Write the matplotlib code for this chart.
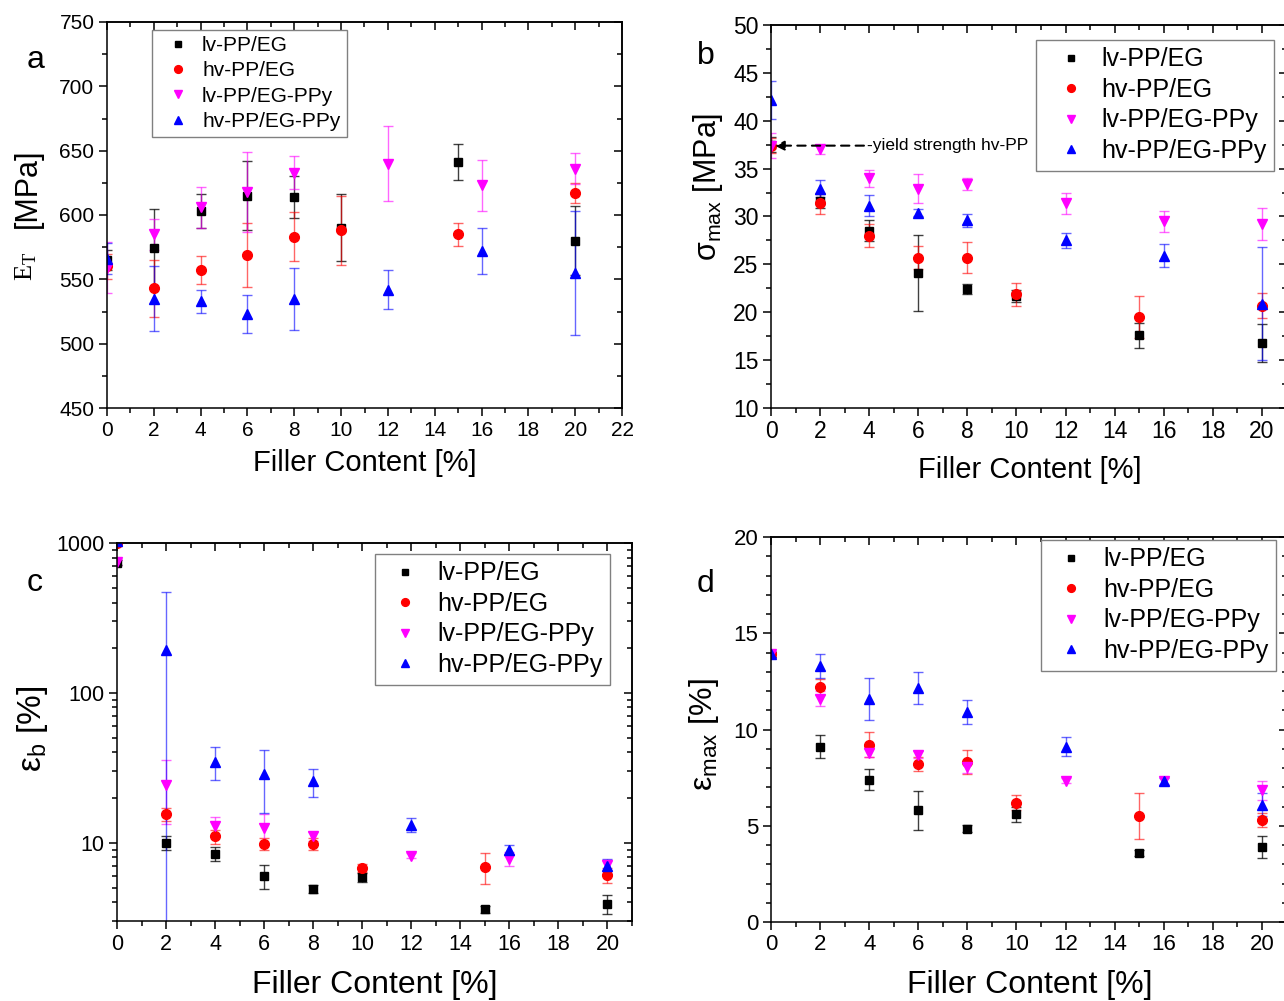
import numpy as np
import matplotlib
matplotlib.use('Agg')
import matplotlib.pyplot as plt
from matplotlib.ticker import MultipleLocator, NullFormatter, FuncFormatter

plt.rcParams['font.family'] = ['Liberation Sans', 'DejaVu Sans']

# series
names = ['lv-PP/EG', 'hv-PP/EG', 'lv-PP/EG-PPy', 'hv-PP/EG-PPy']
colors = ['black', 'red', 'magenta', 'blue']
ecolors = [(0, 0, 0, 0.75), (1, 0, 0, 0.6), (1, 0, 1, 0.6), (0, 0, 1, 0.6)]
markers = ['s', 'o', 'v', '^']
msizes = [6, 7, 7.5, 7.5]

x_EG = [0, 2, 4, 6, 8, 10, 15, 20]
x_PPy = [0, 2, 4, 6, 8, 12, 16, 20]

# a) tensile modulus E_T [MPa]
E_lv_EG = [565, 574, 603, 615, 614, 590, 641, 580]
E_lv_EG_err = [8, 31, 13, 27, 16, 26, 14, 27]
E_hv_EG = [560, 543, 557, 569, 583, 588, 585, 617]
E_hv_EG_err = [10, 22, 11, 25, 19, 27, 9, 8]
E_lv_PPy = [559, 585, 606, 618, 633, 640, 623, 636]
E_lv_PPy_err = [20, 12, 16, 31, 13, 29, 20, 12]
E_hv_PPy = [566, 535, 533, 523, 535, 542, 572, 555]
E_hv_PPy_err = [12, 25, 9, 15, 24, 15, 18, 48]

# b) sigma_max [MPa]
S_lv_EG = [37.5, 31.6, 28.5, 24.1, 22.4, 21.7, 17.6, 16.8]
S_lv_EG_err = [0.8, 0.7, 1.1, 4.0, 0.5, 0.6, 1.3, 2.0]
S_hv_EG = [37.4, 31.4, 28.0, 25.7, 25.7, 21.9, 19.5, 20.7]
S_hv_EG_err = [0.8, 1.1, 1.2, 1.2, 1.6, 1.2, 2.2, 1.3]
S_lv_PPy = [37.4, 37.0, 34.0, 32.9, 33.4, 31.4, 29.5, 29.2]
S_lv_PPy_err = [1.3, 0.5, 0.9, 1.5, 0.6, 1.1, 1.1, 1.7]
S_hv_PPy = [42.2, 32.9, 31.1, 30.4, 29.6, 27.5, 25.9, 20.9]
S_hv_PPy_err = [2.0, 0.9, 1.1, 0.4, 0.7, 0.8, 1.2, 5.9]

# c) elongation at break [%]
B_lv_EG = [740, 10.0, 8.4, 6.0, 4.9, 5.9, 3.6, 3.9]
B_lv_EG_err = [30, 1.1, 0.9, 1.1, 0.3, 0.4, 0.2, 0.55]
B_hv_EG = [1000, 15.5, 11.0, 9.8, 9.85, 6.8, 6.9, 6.1]
B_hv_EG_err = [40, 1.6, 1.2, 0.9, 0.9, 0.4, 1.6, 0.7]
B_lv_PPy = [745, 24.4, 13.0, 12.6, 11.0, 8.2, 7.8, 7.1]
B_lv_PPy_err = [30, 11, 1.8, 3.0, 0.7, 0.3, 0.8, 0.6]
B_hv_PPy = [1030, 193, 34.8, 28.8, 25.6, 13.2, 9.0, 6.95]
B_hv_PPy_err = [40, 280, 8.7, 13, 5.3, 1.4, 0.7, 0.8]

# d) strain at max [%]
M_lv_EG = [13.9, 9.1, 7.4, 5.8, 4.85, 5.6, 3.57, 3.9]
M_lv_EG_err = [0.15, 0.6, 0.55, 1.0, 0.2, 0.4, 0.15, 0.55]
M_hv_EG = [13.9, 12.2, 9.2, 8.2, 8.3, 6.2, 5.5, 5.3]
M_hv_EG_err = [0.15, 0.4, 0.65, 0.35, 0.63, 0.38, 1.2, 0.38]
M_lv_PPy = [13.9, 11.6, 8.8, 8.7, 8.05, 7.35, 7.35, 6.85]
M_lv_PPy_err = [0.15, 0.4, 0.25, 0.2, 0.3, 0.15, 0.2, 0.5]
M_hv_PPy = [13.9, 13.3, 11.6, 12.15, 10.9, 9.1, 7.3, 6.1]
M_hv_PPy_err = [0.15, 0.63, 1.1, 0.83, 0.63, 0.5, 0.2, 0.6]

W, H = 1284, 1001
fig = plt.figure(figsize=(W / 100, H / 100), dpi=100)


def add_ax(l, r, t, b):
    # pixel box -> figure fraction
    return fig.add_axes([l / W, 1 - b / H, (r - l) / W, (b - t) / H])


def fxy(x, y):
    return x / W, 1 - y / H


def draw(ax, vals, errs):
    handles = []
    for i in range(4):
        xs = x_EG if i < 2 else x_PPy
        c = ax.errorbar(xs, vals[i], yerr=errs[i], fmt=markers[i], color=colors[i],
                        mec=colors[i], ms=msizes[i], ecolor=ecolors[i], elinewidth=1,
                        capsize=3.5, capthick=1)
        handles.append(c[0])
    return handles


def style(ax, fs, ymaj, ymin, log=False):
    for s in ax.spines.values():
        s.set_linewidth(1.1)
    ax.tick_params(which='both', direction='out', labelsize=fs, width=1.1, pad=3)
    ax.tick_params(which='major', length=6)
    ax.tick_params(which='minor', length=3.5)
    ax.xaxis.set_major_locator(MultipleLocator(2))
    ax.xaxis.set_minor_locator(MultipleLocator(1))
    if not log:
        ax.yaxis.set_major_locator(MultipleLocator(ymaj))
        ax.yaxis.set_minor_locator(MultipleLocator(ymin))
    # mirrored ticks pointing inwards
    top = ax.secondary_xaxis('top')
    top.xaxis.set_major_locator(MultipleLocator(2))
    top.xaxis.set_minor_locator(MultipleLocator(1))
    top.xaxis.set_major_formatter(NullFormatter())
    right = ax.secondary_yaxis('right')
    if not log:
        right.yaxis.set_major_locator(MultipleLocator(ymaj))
        right.yaxis.set_minor_locator(MultipleLocator(ymin))
    right.yaxis.set_major_formatter(NullFormatter())
    right.yaxis.set_minor_formatter(NullFormatter())
    for sec in (top, right):
        sec.tick_params(which='both', direction='in', width=1.1)
        sec.tick_params(which='major', length=6)
        sec.tick_params(which='minor', length=3.5)
        for s in sec.spines.values():
            s.set_linewidth(1.1)


def legend(ax, handles, x, y, fs, hl, htp, ls):
    leg = ax.legend(handles, names, loc='upper left', bbox_to_anchor=fxy(x, y),
                    bbox_transform=fig.transFigure, fontsize=fs, frameon=True,
                    fancybox=False, edgecolor='#808080', framealpha=1,
                    borderaxespad=0, borderpad=0.3, labelspacing=ls,
                    handlelength=hl, handletextpad=htp, markerscale=0.8)
    leg.get_frame().set_linewidth(1.0)


# ---- a ----
axa = add_ax(107, 622, 22, 408)
h = draw(axa, [E_lv_EG, E_hv_EG, E_lv_PPy, E_hv_PPy],
         [E_lv_EG_err, E_hv_EG_err, E_lv_PPy_err, E_hv_PPy_err])
axa.set_xlim(0, 22)
axa.set_ylim(450, 750)
style(axa, 15, 50, 25)
legend(axa, h, 152, 30, 15, 1.9, 0.2, 0.3)
fig.text(*fxy(365, 463), 'Filler Content [%]', fontsize=21, ha='center', va='center')
fig.text(*fxy(28, 188), '[MPa]', fontsize=22, rotation=90, ha='center', va='center')
fig.text(*fxy(26, 266), r'E$_\mathregular{T}$', fontsize=19, rotation=90,
         ha='center', va='center', family='Liberation Serif')
fig.text(*fxy(36, 60), 'a', fontsize=23, ha='center', va='center')

# ---- b ----
axb = add_ax(771, 1286.5, 25, 408)
h = draw(axb, [S_lv_EG, S_hv_EG, S_lv_PPy, S_hv_PPy],
         [S_lv_EG_err, S_hv_EG_err, S_lv_PPy_err, S_hv_PPy_err])
axb.set_xlim(0, 21)
axb.set_ylim(10, 50)
style(axb, 16.5, 5, 2.5)
legend(axb, h, 1036, 40, 18, 2.2, 0.1, 0.26)
axb.annotate('-yield strength hv-PP', xy=(0.15, 37.4), xytext=(3.9, 37.4),
             fontsize=12.5, va='center', ha='left',
             arrowprops=dict(arrowstyle='-|>', linestyle=(0, (4, 3)), color='black',
                             lw=1.5, shrinkA=0, shrinkB=0, mutation_scale=14))
fig.text(*fxy(1030, 470), 'Filler Content [%]', fontsize=21, ha='center', va='center')
fig.text(*fxy(708, 187), r'σ$_\mathregular{max}$ [MPa]', fontsize=22, rotation=90,
         ha='center', va='center')
fig.text(*fxy(706, 56), 'b', fontsize=23, ha='center', va='center')

# ---- c ----
axc = add_ax(117, 632, 543, 921)
axc.set_yscale('log')
h = draw(axc, [B_lv_EG, B_hv_EG, B_lv_PPy, B_hv_PPy],
         [B_lv_EG_err, B_hv_EG_err, B_lv_PPy_err, B_hv_PPy_err])
axc.set_xlim(0, 21)
axc.set_ylim(3, 1000)
style(axc, 15.5, None, None, log=True)
axc.yaxis.set_major_formatter(FuncFormatter(lambda v, p: f'{v:g}'))
legend(axc, h, 375, 554, 18, 1.8, 0.38, 0.26)
fig.text(*fxy(375, 985), 'Filler Content [%]', fontsize=23, ha='center', va='center')
fig.text(*fxy(32, 729), r'ε$_\mathregular{b}$ [%]', fontsize=24, rotation=90,
         ha='center', va='center')
fig.text(*fxy(35, 583), 'c', fontsize=23, ha='center', va='center')

# ---- d ----
axd = add_ax(771, 1286.5, 537, 922)
h = draw(axd, [M_lv_EG, M_hv_EG, M_lv_PPy, M_hv_PPy],
         [M_lv_EG_err, M_hv_EG_err, M_lv_PPy_err, M_hv_PPy_err])
axd.set_xlim(0, 21)
axd.set_ylim(0, 20)
style(axd, 16, 5, 1)
legend(axd, h, 1041, 540, 18, 1.8, 0.38, 0.26)
fig.text(*fxy(1030, 985), 'Filler Content [%]', fontsize=23, ha='center', va='center')
fig.text(*fxy(704, 735), r'ε$_\mathregular{max}$ [%]', fontsize=23, rotation=90,
         ha='center', va='center')
fig.text(*fxy(705, 584), 'd', fontsize=23, ha='center', va='center')

fig.savefig('out.png', dpi=100)
